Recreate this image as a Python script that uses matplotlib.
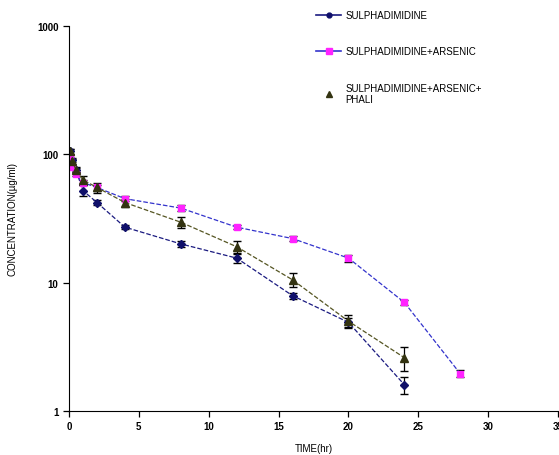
import matplotlib.pyplot as plt
from matplotlib.lines import Line2D
from matplotlib.ticker import FixedLocator, NullLocator

plt.rcParams['font.family'] = ['Liberation Sans', 'DejaVu Sans']

time_a = [0.08, 0.25, 0.5, 1, 2, 4, 8, 12, 16, 20, 24]
sulpha = [105, 90, 75, 52, 42, 27, 20, 15.5, 7.9, 4.9, 1.6]
sulpha_err = [4, 3, 3, 5, 2, 1, 1.2, 1.2, 0.4, 0.4, 0.25]

time_b = [0.08, 0.25, 0.5, 1, 2, 4, 8, 12, 16, 20, 24, 28]
arsenic = [95, 80, 70, 60, 55, 45, 38, 27, 22, 15.5, 7, 1.95]
arsenic_err = [4, 3, 3, 3, 3, 2, 2, 1, 1, 1, 0.3, 0.12]

time_c = [0.08, 0.25, 0.5, 1, 2, 4, 8, 12, 16, 20, 24]
phali = [105, 88, 75, 63, 55, 42, 29.5, 19, 10.5, 5, 2.6]
phali_err = [5, 4, 4, 5, 5, 3, 3, 2, 1.3, 0.6, 0.55]

labels = ['SULPHADIMIDINE', 'SULPHADIMIDINE+ARSENIC',
          'SULPHADIMIDINE+ARSENIC+\nPHALI']

fig = plt.figure(figsize=(5.59, 4.56), dpi=100)
ax = fig.add_axes([0.1234, 0.0965, 0.875, 0.845])

ax.errorbar(time_a, sulpha, yerr=sulpha_err, color='#1a1a80', ls='--', lw=0.9,
            marker='D', ms=4, mfc='#10106a', mec='#10106a', ecolor='black',
            elinewidth=0.9, capsize=3)
ax.errorbar(time_b, arsenic, yerr=arsenic_err, color='#3333cc', ls='--', lw=0.9,
            marker='s', ms=5, mfc='#ff22ff', mec='#ff22ff', ecolor='black',
            elinewidth=0.9, capsize=3)
ax.errorbar(time_c, phali, yerr=phali_err, color='#555522', ls='--', lw=0.9,
            marker='^', ms=6, mfc='#333311', mec='#333311', ecolor='black',
            elinewidth=0.9, capsize=3)

ax.set_yscale('log')
ax.set_ylim(1, 1000)
ax.set_xlim(0, 35)
ax.yaxis.set_major_locator(FixedLocator([1, 10, 100, 1000]))
ax.yaxis.set_minor_locator(NullLocator())
ax.set_yticklabels(['1', '10', '100', '1000'])
ax.set_xticks([0, 5, 10, 15, 20, 25, 30, 35])
ax.set_xticklabels(['0', '5', '10', '15', '20', '25', '30', '35'])
ax.tick_params(labelsize=7, direction='out', length=4, width=0.9)
for t in ax.get_xticklabels() + ax.get_yticklabels():
    t.set_fontweight('bold')
ax.spines['top'].set_visible(False)
ax.spines['right'].set_visible(False)

ax.set_xlabel('TIME(hr)', fontsize=7, labelpad=8)
ax.set_ylabel('CONCENTRATION(µg/ml)', fontsize=7, labelpad=14)

handles = [
    Line2D([], [], color='#1a1a80', lw=1.2, marker='o', ms=3.5,
           mfc='#10106a', mec='#10106a'),
    Line2D([], [], color='#3333cc', lw=1.2, marker='s', ms=4,
           mfc='#ff22ff', mec='#ff22ff'),
    Line2D([], [], ls='none', marker='^', ms=5,
           mfc='#333311', mec='#333311'),
]
fig.legend(handles, labels, loc='upper left', bbox_to_anchor=(0.55, 0.995),
           frameon=False, fontsize=7, labelspacing=2.7, handlelength=2.6,
           handletextpad=0.4)

fig.savefig('out.png', dpi=100)
